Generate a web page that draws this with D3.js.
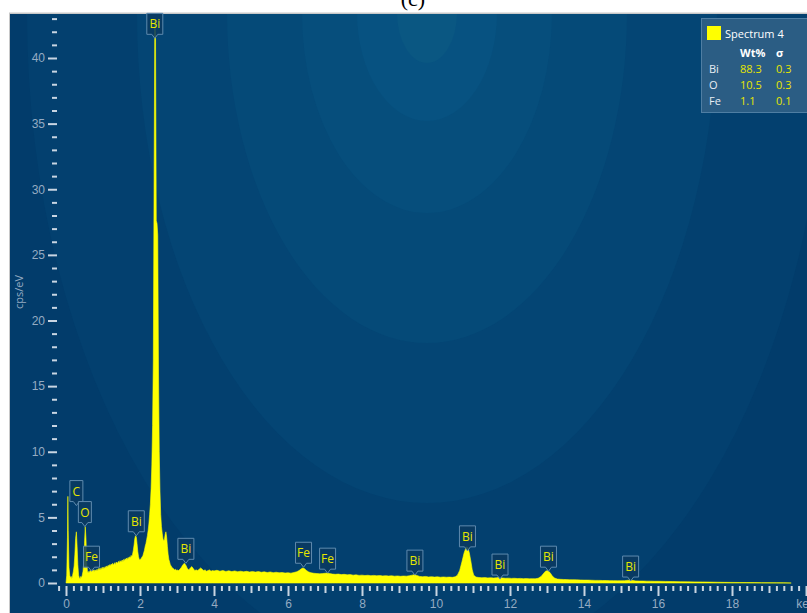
<!DOCTYPE html>
<html><head><meta charset="utf-8">
<script src="https://cdn.jsdelivr.net/npm/d3@7"></script>
<style>
html,body{margin:0;padding:0;background:#fff;}
svg{display:block;font-family:"Open Sans","Noto Sans",sans-serif;}
</style></head>
<body>
<svg id="c" width="807" height="613"></svg>
<script>
// ---- data ----
const spectrum = [
[0.00,0.0],[0.02,0.6],[0.04,3.5],[0.05,6.6],[0.06,4.0],[0.08,1.2],[0.10,0.6],[0.12,0.4],[0.14,0.5],[0.16,0.3],
[0.18,0.6],[0.20,0.9],[0.22,1.3],[0.24,2.2],[0.26,3.4],[0.28,3.9],[0.30,2.8],[0.32,1.4],[0.34,0.6],[0.36,0.4],
[0.38,0.3],[0.40,0.5],[0.42,0.4],[0.44,0.6],[0.46,0.9],[0.48,1.6],[0.50,3.0],[0.52,4.3],[0.54,3.4],[0.56,1.6],
[0.58,0.9],[0.60,0.75],[0.62,0.9],[0.64,0.8],[0.66,1.0],[0.68,0.85],[0.70,1.1],[0.72,0.9],[0.74,1.0],[0.76,0.85],
[0.78,1.0],[0.80,0.95],[0.82,0.95],[0.84,1.05],[0.86,0.9],[0.88,1.1],[0.90,1.0],[0.92,1.15],[0.94,1.0],[0.96,1.1],
[0.98,1.2],[1.00,1.05],[1.02,1.2],[1.04,1.1],[1.06,1.25],[1.08,1.15],[1.10,1.3],[1.12,1.2],[1.14,1.35],[1.16,1.25],
[1.18,1.4],[1.20,1.3],[1.22,1.45],[1.24,1.35],[1.26,1.5],[1.28,1.4],[1.30,1.45],[1.32,1.55],[1.34,1.4],[1.36,1.6],
[1.38,1.5],[1.40,1.55],[1.42,1.65],[1.44,1.5],[1.46,1.7],[1.48,1.6],[1.50,1.65],[1.52,1.75],[1.54,1.6],[1.56,1.8],
[1.58,1.7],[1.60,1.85],[1.62,1.75],[1.64,1.9],[1.66,1.8],[1.68,1.95],[1.70,1.85],[1.72,2.0],[1.74,1.9],[1.76,2.1],
[1.78,2.0],[1.80,2.2],[1.82,2.5],[1.84,2.9],[1.86,3.4],[1.88,3.6],[1.90,3.5],[1.92,3.0],[1.94,2.4],[1.96,2.0],
[1.98,1.8],[2.00,1.75],[2.02,1.85],[2.04,1.9],[2.06,2.0],[2.08,2.1],[2.10,2.3],[2.12,2.5],[2.14,2.8],[2.16,3.0],
[2.18,3.3],[2.20,3.6],[2.22,4.0],[2.24,4.5],[2.26,5.2],[2.28,6.0],[2.30,7.2],[2.32,9.0],[2.34,12.0],[2.36,17.0],
[2.38,30.0],[2.40,42.8],[2.42,41.5],[2.44,27.6],[2.46,27.4],[2.48,26.5],[2.50,16.0],[2.52,10.0],[2.54,7.0],[2.56,5.2],
[2.58,4.3],[2.60,3.8],[2.62,3.4],[2.64,3.2],[2.66,3.3],[2.68,3.7],[2.70,3.9],[2.72,3.5],[2.74,2.8],[2.76,2.2],
[2.78,1.8],[2.80,1.6],[2.82,1.4],[2.84,1.3],[2.86,1.2],[2.88,1.15],[2.90,1.1],[2.92,1.05],[2.94,1.0],[2.96,1.05],
[2.98,0.95],[3.00,1.0],[3.04,0.95],[3.08,1.05],[3.12,1.2],[3.16,1.4],[3.20,1.5],[3.24,1.35],[3.28,1.1],[3.32,1.0],
[3.36,1.15],[3.40,1.25],[3.44,1.1],[3.48,0.95],[3.52,1.0],[3.56,0.95],[3.60,1.05],[3.64,1.15],[3.68,1.05],[3.72,0.95],
[3.76,1.0],[3.80,0.9],[3.84,0.95],[3.88,1.0],[3.92,0.9],[3.96,0.95],[4.00,0.92],[4.08,0.97],[4.16,0.9],[4.24,0.95],
[4.32,0.88],[4.40,0.93],[4.48,0.87],[4.56,0.92],[4.64,0.86],[4.72,0.9],[4.80,0.85],[4.88,0.89],[4.96,0.84],[5.04,0.88],
[5.12,0.83],[5.20,0.87],[5.28,0.82],[5.36,0.85],[5.44,0.8],[5.52,0.84],[5.60,0.79],[5.68,0.82],[5.76,0.78],[5.84,0.8],
[5.92,0.76],[6.00,0.78],[6.08,0.75],[6.16,0.8],[6.24,0.86],[6.30,0.95],[6.36,1.08],[6.40,1.14],[6.44,1.1],[6.50,0.95],
[6.56,0.84],[6.62,0.78],[6.70,0.74],[6.78,0.72],[6.86,0.7],[6.94,0.72],[7.00,0.74],[7.06,0.76],[7.12,0.72],[7.20,0.68],
[7.28,0.66],[7.36,0.68],[7.44,0.64],[7.52,0.66],[7.60,0.62],[7.68,0.64],[7.76,0.6],[7.84,0.62],[7.92,0.58],[8.00,0.6],
[8.08,0.57],[8.16,0.59],[8.24,0.56],[8.32,0.58],[8.40,0.55],[8.48,0.57],[8.56,0.54],[8.64,0.56],[8.72,0.53],[8.80,0.55],
[8.88,0.52],[8.96,0.54],[9.04,0.51],[9.12,0.53],[9.20,0.52],[9.28,0.55],[9.36,0.6],[9.42,0.64],[9.48,0.58],[9.56,0.5],
[9.64,0.48],[9.72,0.5],[9.80,0.46],[9.88,0.48],[9.96,0.45],[10.04,0.47],[10.12,0.44],[10.20,0.46],[10.28,0.44],[10.36,0.45],
[10.44,0.43],[10.52,0.47],[10.58,0.6],[10.64,0.95],[10.70,1.6],[10.76,2.3],[10.82,2.75],[10.86,2.7],[10.90,2.3],[10.94,1.7],
[10.98,1.0],[11.02,0.6],[11.08,0.45],[11.16,0.42],[11.24,0.4],[11.32,0.41],[11.40,0.39],[11.48,0.4],[11.56,0.38],[11.64,0.4],
[11.72,0.43],[11.80,0.38],[11.88,0.36],[11.96,0.37],[12.04,0.35],[12.12,0.36],[12.20,0.34],[12.28,0.35],[12.36,0.33],[12.44,0.34],
[12.52,0.32],[12.60,0.33],[12.68,0.32],[12.76,0.36],[12.84,0.5],[12.90,0.7],[12.96,0.9],[13.02,0.95],[13.08,0.8],[13.14,0.55],
[13.20,0.38],[13.28,0.3],[13.36,0.28],[13.44,0.27],[13.52,0.26],[13.60,0.25],[13.70,0.25],[13.80,0.24],[13.90,0.23],[14.00,0.22],
[14.10,0.22],[14.20,0.21],[14.30,0.2],[14.40,0.2],[14.50,0.19],[14.60,0.19],[14.70,0.18],[14.80,0.18],[14.90,0.17],[15.00,0.17],
[15.10,0.18],[15.20,0.21],[15.26,0.23],[15.32,0.19],[15.40,0.16],[15.50,0.15],[15.60,0.15],[15.70,0.14],[15.80,0.14],[15.90,0.13],
[16.00,0.13],[16.20,0.12],[16.40,0.11],[16.60,0.1],[16.80,0.09],[17.00,0.085],[17.20,0.08],[17.40,0.07],[17.60,0.06],[17.80,0.05],
[18.00,0.045],[18.20,0.04],[18.40,0.035],[18.60,0.03],[18.80,0.025],[19.00,0.02],[19.20,0.015],[19.40,0.01],[19.60,0.0]
];
const peakElements = ["Bi","C","O","Fe","Bi","Bi","Fe","Fe","Bi","Bi","Bi","Bi","Bi"];
const peakEnergies = [2.40,0.28,0.51,0.69,1.90,3.24,6.42,7.07,9.43,10.85,11.73,13.04,15.26];
const peakAnchors  = [41.5,5.9,4.3,0.9,3.6,1.5,1.2,0.75,0.6,2.45,0.3,0.9,0.15];
const xMajorTicks = [0,2,4,6,8,10,12,14,16,18];
const yMajorTicks = [0,5,10,15,20,25,30,35,40];
const legendTitle = "Spectrum 4";
const legendHeaders = ["Wt%","σ"];
const legendElements = ["Bi","O","Fe"];
const legendWt = ["88.3","10.5","1.1"];
const legendSigma = ["0.3","0.3","0.1"];

// ---- drawing ----
const svg = d3.select("#c");
const W = 807, H = 613;
const panel = {x:10, y:14};

const x = d3.scaleLinear().domain([0,18]).range([66,732]);
const y = d3.scaleLinear().domain([0,40]).range([583,58]);

// title (mostly cut off at the top edge, as in the reference)
svg.append("text").attr("x",413).attr("y",6).attr("text-anchor","middle")
  .attr("font-family","Liberation Serif, serif").attr("font-size",22).attr("fill","#000").text("(c)");

const defs = svg.append("defs");
defs.append("clipPath").attr("id","pclip").append("rect")
  .attr("x",panel.x).attr("y",panel.y).attr("width",W-panel.x).attr("height",H-panel.y);

// panel border
svg.append("rect").attr("x",panel.x-1).attr("y",panel.y-1.5).attr("width",W).attr("height",H)
  .attr("fill","#c8c8c8");
const bg = svg.append("g").attr("clip-path","url(#pclip)");
bg.append("rect").attr("x",panel.x).attr("y",panel.y).attr("width",W).attr("height",H).attr("fill","#023c6b");
const bands = [[400,660,"#03406f"],[290,490,"#044574"],[200,330,"#054a78"],[125,200,"#064e7c"],[70,108,"#075281"],[30,50,"#0a5782"]];
bands.forEach(b=>{
  bg.append("ellipse").attr("cx",427).attr("cy",13).attr("rx",b[0]).attr("ry",b[1]).attr("fill",b[2]);
});

// spectrum
const area = d3.area().x(d=>x(d[0])).y0(y(0)).y1(d=>y(d[1]));
svg.append("g").attr("clip-path","url(#pclip)").append("path")
  .datum(spectrum).attr("d",area).attr("fill","#ffff00").attr("stroke","#ffff00").attr("stroke-width",0.6);

// axes
const tickCol = "#c9d5e2", labCol = "#95abc2";
function styleAxis(g){
  g.select(".domain").remove();
  g.selectAll(".tick line").attr("stroke",tickCol).attr("stroke-width",2);
  g.selectAll(".tick text").attr("fill",labCol).attr("font-size",12);
}
const yMinor = d3.range(0,44,1).filter(v=>v%5!==0);
svg.append("g").attr("transform","translate(57,0)")
  .call(d3.axisLeft(y).tickValues(yMinor).tickSize(5).tickFormat("")).call(styleAxis);
svg.append("g").attr("transform","translate(57,0)")
  .call(d3.axisLeft(y).tickValues(yMajorTicks).tickSize(9).tickPadding(3)).call(styleAxis);

const xMinor = d3.range(-1,101,1).map(i=>+(i*0.2).toFixed(1)).filter(v=>Math.abs(v-Math.round(v))>1e-6);
const xOdd = d3.range(1,20,2);
svg.append("g").attr("transform","translate(0,586)")
  .call(d3.axisBottom(x).tickValues(xMinor).tickSize(5).tickFormat("")).call(styleAxis);
svg.append("g").attr("transform","translate(0,586)")
  .call(d3.axisBottom(x).tickValues(xOdd).tickSize(7).tickFormat("")).call(styleAxis);
svg.append("g").attr("transform","translate(0,586)")
  .call(d3.axisBottom(x).tickValues(xMajorTicks.concat([20])).tickSize(10).tickPadding(3)
    .tickFormat(d=>d===20?"keV":d)).call(styleAxis);

svg.append("text").attr("transform","translate(23,292) rotate(-90)").attr("text-anchor","middle")
  .attr("fill",labCol).attr("font-size",11).text("cps/eV");

// peak labels
const pl = svg.append("g");
peakElements.forEach((el,i)=>{
  const px = x(peakEnergies[i]), py = y(peakAnchors[i]);
  const w = el.length>1?16:13, h = 21, tip = 4;
  const g = pl.append("g");
  const top = py - tip - h;
  g.append("path")
    .attr("d",`M${px-w/2},${top} h${w} v${h} h${-(w/2-3)} l-3,${tip} l-3,${-tip} h${-(w/2-3)} Z`)
    .attr("fill","#0b3a60").attr("fill-opacity",0.85).attr("stroke","#5f8aae").attr("stroke-width",1);
  g.append("text").attr("x",px).attr("y",top+h/2+4.5).attr("text-anchor","middle")
    .attr("fill","#e6e600").attr("font-size",12).text(el);
});

// legend
const lg = svg.append("g");
lg.append("rect").attr("x",701.5).attr("y",18.5).attr("width",110).attr("height",94)
  .attr("fill","#2b5d84").attr("stroke","#4f7ea3");
lg.append("rect").attr("x",707).attr("y",26).attr("width",14).attr("height",14).attr("fill","#ffff00");
lg.append("text").attr("x",725).attr("y",38).attr("fill","#ffffff").attr("font-size",11).text(legendTitle);
lg.append("text").attr("x",740).attr("y",57).attr("fill","#ffffff").attr("font-size",11).attr("font-weight","bold").text(legendHeaders[0]);
lg.append("text").attr("x",776).attr("y",57).attr("fill","#ffffff").attr("font-size",11).attr("font-weight","bold").text(legendHeaders[1]);
legendElements.forEach((e,i)=>{
  const yy = 73 + i*15.8;
  lg.append("text").attr("x",709).attr("y",yy).attr("fill","#e8eef4").attr("font-size",11).text(e);
  lg.append("text").attr("x",740).attr("y",yy).attr("fill","#e6e600").attr("font-size",11).text(legendWt[i]);
  lg.append("text").attr("x",776).attr("y",yy).attr("fill","#e6e600").attr("font-size",11).text(legendSigma[i]);
});
</script>
</body></html>
